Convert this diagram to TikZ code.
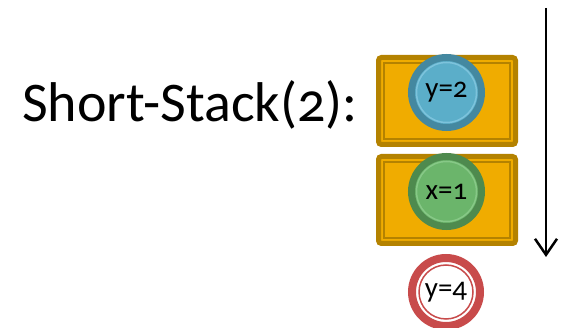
\documentclass[tikz,border=0pt]{standalone}
\usepackage{fontspec}
\setmainfont[Numbers=OldStyle]{Carlito}
\usepackage{xcolor}
\definecolor{stgold}{RGB}{240,172,0}
\definecolor{stgolddark}{RGB}{180,130,0}
\definecolor{stblue}{RGB}{91,174,201}
\definecolor{stbluedark}{RGB}{68,136,160}
\definecolor{stbluelight}{RGB}{125,195,220}
\definecolor{stgreen}{RGB}{107,181,107}
\definecolor{stgreendark}{RGB}{78,138,78}
\definecolor{stgreenlight}{RGB}{135,200,135}
\definecolor{stred}{RGB}{200,75,75}
\usetikzlibrary{arrows.meta, positioning}

\tikzset{
  frame/.style={draw=stgolddark,fill=stgold,line width=5pt,rounded corners=3pt,outer sep=0pt,
    minimum width=137pt,minimum height=87pt},
  token/.style={circle,line width=7pt,minimum size=70pt,inner sep=0pt,outer sep=0pt,
    font=\fontsize{29}{29}\selectfont}
}

\begin{document}
\begin{tikzpicture}[x=1pt,y=-1pt]
  \useasboundingbox (0,0) rectangle (568,328);

  % title
  \node[anchor=base west,inner sep=0pt,font=\fontsize{56}{56}\selectfont] (title) at (22,122) {Short-Stack(2):};

  % the two stack frames
  \node[frame] (top) at (447,101) {};
  \node[frame] (bot) at (447,200) {};
  \draw[stgolddark,line width=2pt] ([shift={(5.5pt,-5.5pt)}]top.north west) rectangle ([shift={(-5.5pt,5.5pt)}]top.south east);
  \draw[stgolddark,line width=2pt] ([shift={(5.5pt,-5.5pt)}]bot.north west) rectangle ([shift={(-5.5pt,5.5pt)}]bot.south east);

  % values held in the frames
  \node[token,draw=stbluedark,fill=stblue] (ytwo) at (446.5,92.5) {y=2};
  \draw[stbluelight,line width=1.5pt] (ytwo.center) circle (30pt);
  \node[token,draw=stgreendark,fill=stgreen] (xone) at (446.5,191.5) {x=1};
  \draw[stgreenlight,line width=1.5pt] (xone.center) circle (30pt);

  % value about to be pushed
  \node[token,draw=stred,fill=white,line width=8pt,minimum size=68pt] (yfour) at (446,292) {y=4};
  \draw[stred,line width=1.5pt] (yfour.center) circle (27pt);

  % direction of the stack
  \coordinate (arrtop) at (546,8);
  \coordinate (arrbot) at (546,257);
  \draw[line width=2.5pt,-{Straight Barb[length=16pt,width=22pt]}] (arrtop) -- (arrbot);
\end{tikzpicture}
\end{document}
